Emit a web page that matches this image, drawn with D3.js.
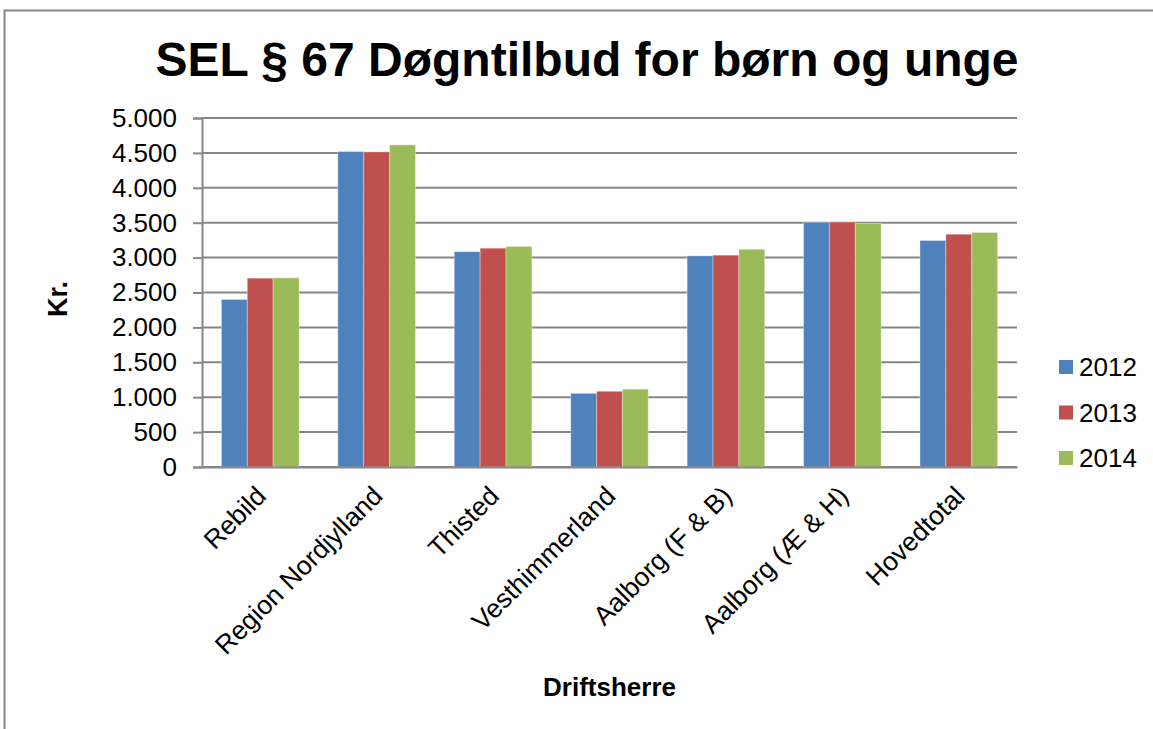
<!DOCTYPE html>
<html>
<head>
<meta charset="utf-8">
<script src="https://cdn.jsdelivr.net/npm/d3@7"></script>
<style>
  body { margin: 0; background: #fff; }
  svg { display: block; font-family: "Liberation Sans", Arial, sans-serif; }
</style>
</head>
<body>
<div id="chart"></div>
<script>
// Chart data
const categories = ["Rebild", "Region Nordjylland", "Thisted", "Vesthimmerland",
                    "Aalborg (F & B)", "Aalborg (Æ & H)", "Hovedtotal"];
const years = ["2012", "2013", "2014"];
const values2012 = [2400, 4520, 3085, 1055, 3025, 3505, 3245];
const values2013 = [2705, 4515, 3135, 1085, 3035, 3510, 3335];
const values2014 = [2710, 4615, 3160, 1115, 3120, 3490, 3360];
const yTicks = [0, 500, 1000, 1500, 2000, 2500, 3000, 3500, 4000, 4500, 5000];
const colors = ["#4F81BD", "#C0504D", "#9BBB59"];

const seriesValues = [values2012, values2013, values2014];

const width = 1153;
const height = 729;
const plot = { left: 202, right: 1017, top: 118, bottom: 467 };

const svg = d3.select("#chart")
    .append("svg")
    .attr("width", width)
    .attr("height", height);

// outer chart border (only top and left visible in the picture)
svg.append("path")
    .attr("d", `M4.5,${height} V10.5 H${width}`)
    .attr("fill", "none")
    .attr("stroke", "#868686")
    .attr("stroke-width", 2);

const x0 = d3.scaleBand()
    .domain(categories)
    .range([plot.left, plot.right])
    .padding(0);

const x1 = d3.scaleBand()
    .domain(years)
    .range([0, x0.bandwidth()])
    .paddingInner(0)
    .paddingOuter(0.75);

const y = d3.scaleLinear()
    .domain([0, 5000])
    .range([plot.bottom, plot.top]);

const fmt = v => d3.format(",")(v).replace(/,/g, ".");

// gridlines
svg.append("g")
    .selectAll("line")
    .data(yTicks)
    .enter()
    .append("line")
    .attr("x1", plot.left)
    .attr("x2", plot.right)
    .attr("y1", d => y(d))
    .attr("y2", d => y(d))
    .attr("stroke", "#868686")
    .attr("stroke-width", 2);

// bars
const groups = svg.append("g")
    .selectAll("g")
    .data(categories)
    .enter()
    .append("g")
    .attr("transform", d => `translate(${x0(d)},0)`);

groups.selectAll("rect")
    .data((c, i) => years.map((yr, j) => ({ year: yr, value: seriesValues[j][i], color: colors[j] })))
    .enter()
    .append("rect")
    .attr("x", d => x1(d.year))
    .attr("y", d => y(d.value))
    .attr("width", x1.bandwidth())
    .attr("height", d => plot.bottom - y(d.value))
    .attr("fill", d => d.color)
    .attr("stroke", "rgba(255,255,255,0.35)")
    .attr("stroke-width", 1);

// y axis
const yAxis = svg.append("g")
    .attr("transform", `translate(${plot.left},0)`)
    .call(d3.axisLeft(y).tickValues(yTicks).tickFormat(fmt).tickSize(9).tickPadding(16));
yAxis.select(".domain").attr("stroke", "#868686").attr("stroke-width", 2);
yAxis.selectAll(".tick line").attr("stroke", "#868686").attr("stroke-width", 2);
yAxis.selectAll("text")
    .attr("font-size", 26)
    .attr("fill", "#000")
    .attr("font-family", "Liberation Sans, Arial, sans-serif");

// x axis
const xAxis = svg.append("g")
    .attr("transform", `translate(0,${plot.bottom})`)
    .call(d3.axisBottom(x0).tickSize(0).tickFormat(""));
xAxis.select(".domain").attr("stroke", "#868686").attr("stroke-width", 2);

svg.append("g")
    .selectAll("text")
    .data(categories)
    .enter()
    .append("text")
    .attr("transform", d => `translate(${x0(d) + x0.bandwidth() / 2 + 1},${plot.bottom + 24}) rotate(-45)`)
    .attr("text-anchor", "end")
    .attr("dy", "0.35em")
    .attr("font-size", 26.5)
    .text(d => d);

// title
svg.append("text")
    .attr("x", 587)
    .attr("y", 76)
    .attr("text-anchor", "middle")
    .attr("font-size", 48)
    .attr("font-weight", "bold")
    .text("SEL § 67 Døgntilbud for børn og unge");

// axis titles
svg.append("text")
    .attr("transform", "translate(67,299) rotate(-90)")
    .attr("text-anchor", "middle")
    .attr("font-size", 27)
    .attr("font-weight", "bold")
    .text("Kr.");

svg.append("text")
    .attr("x", 609.5)
    .attr("y", 696)
    .attr("text-anchor", "middle")
    .attr("font-size", 26)
    .attr("font-weight", "bold")
    .text("Driftsherre");

// legend
const legend = svg.append("g")
    .selectAll("g")
    .data(years)
    .enter()
    .append("g")
    .attr("transform", (d, i) => `translate(1059,${367 + i * 45.5})`);

legend.append("rect")
    .attr("x", 0)
    .attr("y", -7)
    .attr("width", 14)
    .attr("height", 14)
    .attr("fill", (d, i) => colors[i]);

legend.append("text")
    .attr("x", 20)
    .attr("dy", "0.36em")
    .attr("font-size", 26)
    .text(d => d);
</script>
</body>
</html>
